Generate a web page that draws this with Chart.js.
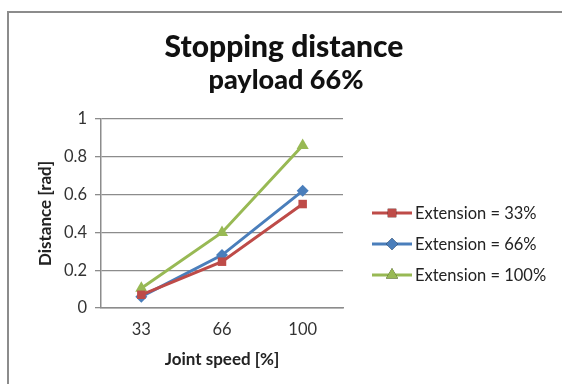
<!DOCTYPE html>
<html>
<head>
<meta charset="utf-8">
<script src="https://cdn.jsdelivr.net/npm/chart.js@4/dist/chart.umd.min.js"></script>
<style>
  html, body { margin: 0; padding: 0; background: #fff; }
  #wrap { position: relative; width: 562px; height: 384px; }
  #frame { position: absolute; left: 7px; top: 11px; right: 0; bottom: 0;
           border-top: 2px solid #8c8c8c; border-left: 2px solid #8c8c8c; }
  canvas { position: absolute; left: 0; top: 0; }
</style>
</head>
<body>
<div id="wrap">
  <div id="frame"></div>
  <canvas id="chart" width="562" height="384"></canvas>
</div>
<script>
const categories = ["33", "66", "100"];
const seriesNames = ["Extension = 33%", "Extension = 66%", "Extension = 100%"];
const ext33 = [0.07, 0.245, 0.55];
const ext66 = [0.06, 0.28, 0.62];
const ext100 = [0.105, 0.40, 0.86];
const yTicks = [0, 0.2, 0.4, 0.6, 0.8, 1];
const titleLines = ["Stopping distance", "payload 66%"];

const colors = ["#be4b48", "#4a7ebb", "#98b954"];
const markers = ["rect", "rectRot", "triangle"];
const markerSizes = [6, 6, 7];

// title centred on the whole chart box (Excel style), not on the plot
const boxTitle = {
    id: "boxTitle",
    afterDraw: (chart) => {
        const ctx = chart.ctx;
        ctx.save();
        ctx.fillStyle = "#111";
        ctx.textAlign = "center";
        ctx.textBaseline = "alphabetic";
        ctx.font = "900 30px Lato";
        ctx.fillText(titleLines[0], 284, 57);
        ctx.font = "900 27px Lato";
        ctx.fillText(titleLines[1], 286, 89);
        ctx.restore();
    }
};

// legend drawn like Excel: a short line with the marker in the middle
const sideLegend = {
    id: "sideLegend",
    afterDraw: (chart) => {
        const ctx = chart.ctx;
        const rows = [213, 244, 275];
        chart.data.datasets.forEach((ds, i) => {
            const y = rows[i];
            ctx.save();
            ctx.strokeStyle = ds.borderColor;
            ctx.lineWidth = 3;
            ctx.beginPath();
            ctx.moveTo(372, y);
            ctx.lineTo(412, y);
            ctx.stroke();
            Chart.helpers.drawPoint(ctx, {
                pointStyle: ds.pointStyle,
                radius: ds.pointRadius,
                rotation: 0
            }, 392, y);
            ctx.fillStyle = ds.backgroundColor;
            ctx.fill();
            ctx.fillStyle = "#222";
            ctx.font = "16.5px Lato";
            ctx.textBaseline = "middle";
            ctx.fillText(ds.label, 415, y + 1);
            ctx.restore();
        });
    }
};

const makeSet = (i, values) => ({
    label: seriesNames[i],
    data: values,
    borderColor: colors[i],
    backgroundColor: colors[i],
    borderWidth: 3,
    pointStyle: markers[i],
    pointRadius: markerSizes[i],
    pointHoverRadius: markerSizes[i],
    pointBorderWidth: 0,
    tension: 0
});

new Chart(document.getElementById("chart").getContext("2d"), {
    type: "line",
    data: {
        labels: categories,
        datasets: [makeSet(0, ext33), makeSet(1, ext66), makeSet(2, ext100)]
    },
    plugins: [boxTitle, sideLegend],
    options: {
        responsive: false,
        animation: false,
        layout: { padding: { left: 35, right: 219, top: 119, bottom: 14 } },
        plugins: {
            legend: { display: false },
            tooltip: { enabled: false },
            title: { display: false }
        },
        scales: {
            x: {
                offset: true,
                grid: { display: false, drawTicks: false },
                border: { color: "#8c8c8c", width: 1.5 },
                ticks: { color: "#333", font: { family: "Lato", size: 16.5 }, padding: 12 },
                title: {
                    display: true,
                    text: "Joint speed [%]",
                    color: "#222",
                    font: { family: "Lato", size: 17, weight: "bold" },
                    padding: { top: 3, bottom: 0 }
                },
                afterFit: (s) => { s.height = 62; }
            },
            y: {
                min: 0,
                max: 1,
                afterBuildTicks: (s) => { s.ticks = yTicks.map(v => ({ value: v })); },
                grid: { color: "#8c8c8c", lineWidth: 1.3, tickLength: 6 },
                border: { color: "#8c8c8c", width: 1.5 },
                ticks: {
                    color: "#333",
                    font: { family: "Lato", size: 16.5 },
                    padding: 8,
                    callback: (v) => String(v)
                },
                title: {
                    display: true,
                    text: "Distance [rad]",
                    color: "#222",
                    font: { family: "Lato", size: 17, weight: "bold" },
                    padding: 0
                },
                afterFit: (s) => { s.width = 66; }
            }
        }
    }
});
</script>
</body>
</html>
